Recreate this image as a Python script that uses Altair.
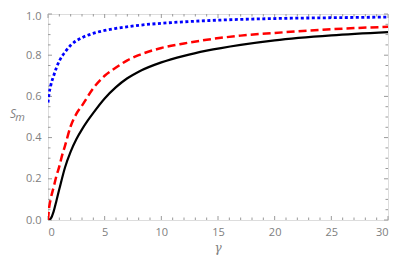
import altair as alt
import pandas as pd

# ---- data ----
gamma_black = [0, 0.25, 0.5, 0.75, 1, 1.5, 2, 2.5, 3, 3.5, 4, 5, 6, 7, 8, 10, 12, 14, 17, 20, 25, 30]
s_black = [0, 0.008, 0.042, 0.095, 0.15, 0.255, 0.332, 0.392, 0.44, 0.482, 0.52, 0.59, 0.645, 0.688,
           0.72, 0.765, 0.797, 0.822, 0.85, 0.872, 0.896, 0.912]

gamma_red = [0, 0.1, 0.25, 0.5, 0.75, 1, 1.25, 1.5, 2, 2.5, 3, 4, 5, 6, 7, 8, 10, 12, 14, 17, 20, 25, 30]
s_red = [0, 0.06, 0.105, 0.16, 0.215, 0.26, 0.315, 0.36, 0.455, 0.515, 0.555, 0.64, 0.70, 0.74, 0.775,
         0.80, 0.835, 0.857, 0.875, 0.895, 0.908, 0.926, 0.938]

gamma_blue = [0, 0.1, 0.25, 0.5, 0.75, 1, 1.5, 2, 3, 4, 5, 6, 8, 10, 12, 15, 20, 25, 30]
s_blue = [0.57, 0.615, 0.655, 0.70, 0.74, 0.772, 0.815, 0.848, 0.885, 0.906, 0.92, 0.93, 0.945,
          0.955, 0.962, 0.97, 0.978, 0.982, 0.985]

x_major = [0, 5, 10, 15, 20, 25, 30]
x_minor = [v for v in range(0, 31) if v % 5 != 0]
y_major = [0.0, 0.2, 0.4, 0.6, 0.8, 1.0]
y_minor = [round(i * 0.05, 2) for i in range(21) if i % 4 != 0]

W, H = 340, 206
FRAME = "#9a9a9a"
LABEL = "#808080"
FONT = "Open Sans"

xs = alt.Scale(domain=[0, 30], nice=False, zero=False)
ys = alt.Scale(domain=[0, 1], nice=False, zero=False)
xaxis = alt.Axis(values=x_major, title=None, ticks=False, tickSize=0, domain=False, grid=False,
                 labelPadding=6, labelFont=FONT, labelFontSize=11, labelColor=LABEL, format="d")
yaxis = alt.Axis(values=y_major, title=None, ticks=False, tickSize=0, domain=False, grid=False,
                 labelPadding=7, labelFont=FONT, labelFontSize=11, labelColor=LABEL, format=".1f",
                 labelOffset=alt.ExprRef(expr="datum.value >= 0.99 ? 2 : 0"))

def curve(g, s, color, dash, width):
    df = pd.DataFrame({"g": g, "s": s})
    kw = dict(color=color, strokeWidth=width, interpolate="monotone", clip=True)
    if dash:
        kw["strokeDash"] = dash
    return alt.Chart(df).mark_line(**kw).encode(
        x=alt.X("g:Q", scale=xs, axis=xaxis),
        y=alt.Y("s:Q", scale=ys, axis=yaxis),
    )

black = curve(gamma_black, s_black, "#000000", None, 2.2)
red = curve(gamma_red, s_red, "#ff0000", [8, 4], 2.5)
blue = curve(gamma_blue, s_blue, "#0000ff", [3, 2.5], 2.8)

def xticks(vals, length):
    df = pd.DataFrame({"v": vals})
    bottom = alt.Chart(df).mark_rule(color=FRAME, strokeWidth=1).encode(
        x=alt.X("v:Q", scale=xs, axis=xaxis), y=alt.value(H), y2=alt.value(H - length))
    top = alt.Chart(df).mark_rule(color=FRAME, strokeWidth=1).encode(
        x=alt.X("v:Q", scale=xs, axis=xaxis), y=alt.value(0), y2=alt.value(length))
    return [bottom, top]

def yticks(vals, length):
    df = pd.DataFrame({"v": vals})
    left = alt.Chart(df).mark_rule(color=FRAME, strokeWidth=1).encode(
        y=alt.Y("v:Q", scale=ys, axis=yaxis), x=alt.value(0), x2=alt.value(length))
    right = alt.Chart(df).mark_rule(color=FRAME, strokeWidth=1).encode(
        y=alt.Y("v:Q", scale=ys, axis=yaxis), x=alt.value(W), x2=alt.value(W - length))
    return [left, right]

ticks = xticks(x_major, 4) + xticks(x_minor, 2.5) + yticks(y_major, 4) + yticks(y_minor, 2.5)

s_txt = alt.Chart(pd.DataFrame({"t": ["S"]})).mark_text(
    font=FONT, fontSize=12, fontStyle="italic", color=LABEL, align="center", baseline="middle"
).encode(text="t:N", x=alt.value(-35), y=alt.value(100))
m_txt = alt.Chart(pd.DataFrame({"t": ["m"]})).mark_text(
    font=FONT, fontSize=11, fontStyle="italic", color=LABEL, align="center", baseline="middle"
).encode(text="t:N", x=alt.value(-28), y=alt.value(104))
g_txt = alt.Chart(pd.DataFrame({"t": ["γ"]})).mark_text(
    font="DejaVu Serif", fontSize=12, fontStyle="italic", color=LABEL, align="center", baseline="middle"
).encode(text="t:N", x=alt.value(170), y=alt.value(234))

chart = alt.layer(*ticks, black, red, blue, s_txt, m_txt, g_txt).properties(
    width=W, height=H,
    autosize=alt.AutoSizeParams(type="none"),
    padding={"left": 40, "top": 6, "right": 1, "bottom": 35},
).configure_view(stroke=FRAME, strokeWidth=1).configure(background="white")

chart.save("out.html", embed_options={"renderer": "svg", "actions": False})
